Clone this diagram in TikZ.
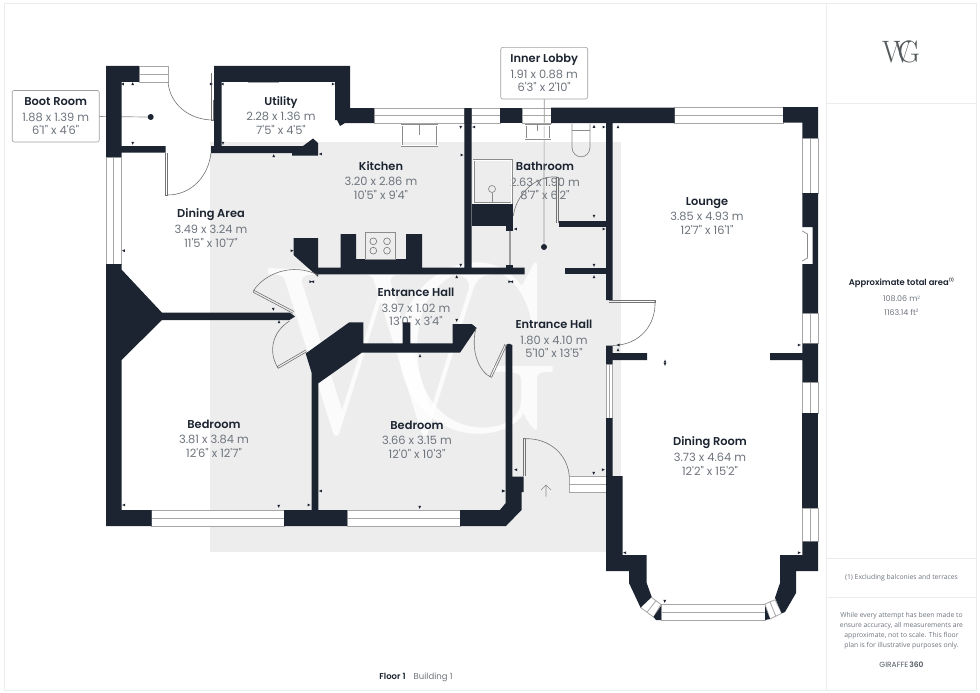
\documentclass[tikz,border=0pt]{standalone}
\usepackage{fontspec}
\newfontfamily\lblfont{Poppins}
\newfontfamily\lblbold{Poppins SemiBold}
\newfontfamily\smallfont{Open Sans}
\definecolor{wallc}{HTML}{1B2430}
\definecolor{txtg}{HTML}{6E747C}
\definecolor{shadec}{HTML}{EDEDED}
\definecolor{wing}{HTML}{A6A6A6}
\definecolor{framec}{HTML}{ECECEC}
\definecolor{logoc}{HTML}{555A5C}
\tikzset{
  wall/.style={fill=wallc,draw=none},
  win/.style={fill=white,draw=wing,line width=0.8pt},
  winl/.style={draw=wing,line width=0.8pt},
  doorl/.style={draw=gray!90!black,line width=0.6pt},
  fixt/.style={draw=gray!90,line width=0.7pt},
  frameln/.style={draw=framec,line width=0.9pt},
  roomlab/.style={inner sep=0pt,align=center,text=txtg,font=\lblfont\fontsize{11.4}{13.6}\selectfont},
  tagbox/.style={roomlab,draw=gray!75,rounded corners=2pt,fill=white,line width=0.6pt,minimum width=87pt,minimum height=51.5pt},
  leader/.style={draw=gray!85,line width=0.7pt},
  sidetxt/.style={inner sep=0pt,align=center,text=txtg,font=\smallfont\fontsize{6.8}{9.8}\selectfont},
  wmark/.style={inner sep=0pt,anchor=base west,text=white,opacity=0.8,font=\rmfamily\fontsize{240}{240}\selectfont},
  logomark/.style={inner sep=0pt,anchor=base west,text=logoc,font=\rmfamily\fontsize{31}{31}\selectfont}
}
\newcommand{\rtitle}[1]{{\lblbold\color{wallc}#1}}
% window helpers
\newcommand{\winh}[4]{\draw[win] (#1,#3) rectangle (#2,#4); \draw[winl] (#1,{(#3+#4)/2}) -- (#2,{(#3+#4)/2});}
\newcommand{\winv}[4]{\draw[win] (#3,#1) rectangle (#4,#2); \draw[winl] ({(#3+#4)/2},#1) -- ({(#3+#4)/2},#2);}
% dimension ticks
\newcommand{\tkL}[2]{\fill[wallc,shift={(#1,#2)}] (-1.8,0) -- (1.2,-1.4) -- (1.2,1.4) -- cycle;}
\newcommand{\tkR}[2]{\fill[wallc,shift={(#1,#2)}] (1.8,0) -- (-1.2,-1.4) -- (-1.2,1.4) -- cycle;}
\newcommand{\tkU}[2]{\fill[wallc,shift={(#1,#2)}] (0,-1.8) -- (-1.4,1.2) -- (1.4,1.2) -- cycle;}
\newcommand{\tkD}[2]{\fill[wallc,shift={(#1,#2)}] (0,1.8) -- (-1.4,-1.2) -- (1.4,-1.2) -- cycle;}
\begin{document}
\begin{tikzpicture}[x=1pt,y=-1pt]
\useasboundingbox (0,0) rectangle (980,693);
\fill[white] (0,0) rectangle (980,693);
% frame
\draw[frameln] (4.5,3) -- (976.3,3) -- (976.3,690) -- (4.5,690) -- cycle;
\draw[frameln] (826.7,3) -- (826.7,690);
\draw[frameln] (826.7,103) -- (976.3,103);
\draw[frameln] (826.7,558) -- (976.3,558);
\draw[frameln] (826.7,597) -- (976.3,597);
% shaded area and watermark
\fill[shadec] (210,141.5) rectangle (620.7,551.7);
\node[wmark] (wmW) at (266,432) {W};
\node[wmark] (wmG) at (388,430) {G};
% room labels
\node[roomlab] (utility) at (281,115.5) {\rtitle{Utility}\\[2pt]2.28 x 1.36 m\\7'5" x 4'5"};
\node[roomlab] (kitchen) at (381,180.5) {\rtitle{Kitchen}\\[2pt]3.20 x 2.86 m\\10'5" x 9'4"};
\node[roomlab] (bathroom) at (545,181) {\rtitle{Bathroom}\\[2pt]2.63 x 1.90 m\\8'7" x 6'2"};
\node[roomlab] (dining) at (211,228) {\rtitle{Dining Area}\\[2pt]3.49 x 3.24 m\\11'5" x 10'7"};
\node[roomlab] (lounge) at (707,216) {\rtitle{Lounge}\\[2pt]3.85 x 4.93 m\\12'7" x 16'1"};
\node[roomlab] (hallA) at (416,307) {\rtitle{Entrance Hall}\\[2pt]3.97 x 1.02 m\\13'0" x 3'4"};
\node[roomlab] (hallB) at (554,339) {\rtitle{Entrance Hall}\\[2pt]1.80 x 4.10 m\\5'10" x 13'5"};
\node[roomlab] (bedA) at (214,438.5) {\rtitle{Bedroom}\\[2pt]3.81 x 3.84 m\\12'6" x 12'7"};
\node[roomlab] (bedB) at (417,439.5) {\rtitle{Bedroom}\\[2pt]3.66 x 3.15 m\\12'0" x 10'3"};
\node[roomlab] (diningroom) at (710,456) {\rtitle{Dining Room}\\[2pt]3.73 x 4.64 m\\12'2" x 15'2"};
% callouts
\node[tagbox] (boot) at (55.7,116.2) {\rtitle{Boot Room}\\[2pt]1.88 x 1.39 m\\6'1" x 4'6"};
\node[tagbox] (lobby) at (544.2,73.2) {\rtitle{Inner Lobby}\\[2pt]1.91 x 0.88 m\\6'3" x 2'10"};
\node[circle,fill=wallc,inner sep=0pt,minimum size=6pt] (bootdot) at (150.7,117) {};
\node[circle,fill=wallc,inner sep=0pt,minimum size=6pt] (lobbydot) at (544,247) {};
% windows
\winh{139}{168}{66}{82}
\winh{248}{278}{66}{82}
\winh{374}{464.3}{108}{123}
\winh{471.7}{500}{108}{123}
\winh{522}{551}{108}{123}
\winh{674.7}{783}{107.5}{123}
\winh{151.5}{284}{510}{526}
\winh{347}{460}{510}{526}
\winh{661}{765}{604.5}{620}
\winv{157}{264}{106}{121.5}
\winv{138}{193}{802.3}{818}
\winv{313}{343.7}{802.3}{818}
\winv{382}{413.3}{802.3}{818}
\winv{508.3}{541.7}{802.3}{818}
\draw[win] (606,364) rectangle (612.7,418); \draw[winl] (609.3,364) -- (609.3,418);
\draw[win] (569.3,476.7) rectangle (606,492.3); \draw[winl] (569.3,484.3) -- (606,484.3);
\draw[win] (651,597) -- (661,604.5) -- (653.5,617) -- (640.5,607.5) -- cycle; \draw[winl] (656,600.7) -- (647,612.3);
\draw[win] (765,604) -- (775,599.7) -- (781.7,613.3) -- (770,619) -- cycle; \draw[winl] (770,601.8) -- (775.8,616.2);
% leaders (run behind the walls)
\draw[leader] (boot) -- (bootdot);
\draw[leader] (lobby) -- (lobbydot);
% walls
\fill[wall] (106,66) -- (139,66) -- (139,82) -- (121.5,82) -- (121.5,146) -- (165.5,146) -- (165.5,152.5) -- (121.5,152.5) -- (121.5,157) -- (106,157) -- cycle;
\fill[wall] (106,264) -- (121.5,264) -- (121.5,269.5) -- (162,312.7) -- (290,312.7) -- (295,316.5) -- (289.5,320) -- (162,320) -- (121.5,360) -- (121.5,510) -- (151.5,510) -- (151.5,526) -- (106,526) -- cycle;
\fill[wall] (284,510) -- (311.7,510) -- (311.7,373) -- (305.7,353.5) -- (349.3,322.3) -- (363.3,322.3) -- (363.3,343.3) -- (402.7,343.3) -- (402.7,322.3) -- (410.3,322.3) -- (410.3,343.3) -- (452.7,343.3) -- (452.7,324) -- (471.7,324) -- (476.7,328) -- (460,352.7) -- (361.7,352.7) -- (318.3,383.3) -- (318.3,510) -- (347,510) -- (347,526) -- (284,526) -- cycle;
\fill[wall] (460,526) -- (460,510) -- (500,510) -- (505.7,503) -- (505.7,345) -- (509,343.7) -- (512.3,345) -- (512.3,476.5) -- (523.5,476.5) -- (523.5,492) -- (521.5,492) -- (521.5,510) -- (506,526) -- cycle;
\fill[wall] (214,66) -- (350,66) -- (350,108) -- (374,108) -- (374,123) -- (345,123) -- (340,126) -- (337,120) -- (335,120) -- (335,82) -- (221.7,82) -- (221.7,146) -- (303,146) -- (313,138.5) -- (318,143) -- (318,155.5) -- (292,155.5) -- (292,153) -- (211,153) -- (211,146) -- (214,146) -- cycle;
\fill[wall] (293.5,238) -- (318,238) -- (318,267.5) -- (340.7,267.5) -- (340.7,234) -- (356,234) -- (356,259) -- (406,259) -- (406,234) -- (422,234) -- (422,267.5) -- (464.3,267.5) -- (464.3,108) -- (471.7,108) -- (471.7,267.5) -- (524.5,267.5) -- (524.5,274.3) -- (318,274.3) -- (318,276.7) -- (293.5,255) -- cycle;
\fill[wall] (471.7,204) rectangle (512.7,225.7);
\fill[wall] (506,225) rectangle (512.7,231);
\fill[wall] (506,265) rectangle (513,267.5);
\fill[wall] (500,108) rectangle (522,123);
\fill[wall] (551,107.5) -- (674.7,107.5) -- (674.7,123) -- (612.7,123) -- (612.7,300) -- (606,300) -- (606,123) -- (551,123) -- cycle;
\fill[wall] (558.7,220.7) rectangle (606,226.7);
\fill[wall] (565,267.7) rectangle (606,274.3);
\fill[wall] (606,345.7) -- (612.7,345.7) -- (612.7,353) -- (647,353) -- (647,360) -- (612.7,360) -- (612.7,364) -- (606,364) -- cycle;
\fill[wall] (606,418) -- (612.7,418) -- (612.7,476) -- (622.7,476) -- (622.7,555) -- (646.7,555) -- (646.7,583) -- (651.7,597) -- (640.5,607.5) -- (629,583) -- (629,571) -- (606,571) -- cycle;
\fill[wall] (783,107) -- (818,107) -- (818,138) -- (802.3,138) -- (802.3,122.5) -- (783,122.5) -- cycle;
\fill[wall] (802.3,193) -- (818,193) -- (818,313) -- (802.3,313) -- (802.3,264) -- (812.5,264) -- (812.5,227) -- (802.3,227) -- cycle;
\fill[wall] (802.3,343.7) -- (818,343.7) -- (818,382) -- (802.3,382) -- (802.3,360) -- (770,360) -- (770,353) -- (802.3,353) -- cycle;
\fill[wall] (802.3,413.3) rectangle (818,508.3);
\fill[wall] (802.3,541.7) -- (818,541.7) -- (818,571) -- (796,571) -- (796,593) -- (785,612) -- (781.7,613.3) -- (775,597.7) -- (780,583) -- (780,555) -- (802.3,555) -- cycle;
\fill[wall] (661,606) -- (661,620) -- (656,620) -- (653.5,617) -- cycle;
\fill[wall] (765,606) -- (765,620) -- (770,619) -- cycle;
% fireplace
\draw[fixt] (802.3,231) -- (807.5,234) -- (807.5,258) -- (802.3,261);
% doors
\draw[doorl] (168,82) .. controls (170,105) and (190,120) .. (213,120);
\draw[doorl] (211,73) -- (211,120) -- (213,120) -- (213,100);
\draw[doorl] (165.5,152.5) -- (165.5,195) -- (167.5,195) -- (167.5,152.5);
\draw[doorl] (167.5,195) .. controls (190,195) and (208,178) .. (211,153);
\draw[doorl] (293,313.3) -- (253.3,292.3) -- (254.3,290.5) -- (294,311.5);
\draw[doorl] (253.3,291) .. controls (264,274) and (292,262) .. (318,275);
\draw[doorl] (306.7,351.7) -- (278.3,368.3) -- (277.3,366.5) -- (305.7,350);
\draw[doorl] (278,368) .. controls (268,352) and (272,332) .. (289.5,321);
\draw[doorl] (506.7,345) -- (491.7,377.3) -- (489.9,376.5) -- (504.9,344.2);
\draw[doorl] (490.5,377) .. controls (480,372) and (470,352) .. (476,328);
\draw[doorl] (609.3,300) -- (655,300) -- (655,302) -- (609.3,302);
\draw[doorl] (655,301) .. controls (656,325) and (640,345) .. (612.7,345.5);
\draw[doorl] (523.7,476) -- (523.7,438.7) -- (525.7,438.7) -- (525.7,476);
\draw[doorl] (525,438.7) .. controls (550,438) and (568,455) .. (569.3,476.7);
\draw[doorl] (556.7,223) -- (556.7,177) -- (558.7,177) -- (558.7,223);
\draw[doorl] (513.3,216) .. controls (516,195) and (535,175) .. (557,177);
\fill[wing!70!gray] (508.5,231) rectangle (510.7,265);
% entry arrow
\draw[gray!90,line width=0.6pt] (546,496.7) -- (546,485) (541,490) -- (546,485) -- (551,490);
% kitchen fixtures
\draw[fixt,double,double distance=1pt,line width=0.5pt] (401.5,125) rectangle (437.2,145.5);
\draw[fixt] (419,124) -- (419,135);
\draw[fixt] (365,232) rectangle (395.7,259);
\foreach \cx/\cy in {373.3/241.3,387/241.3,373.3/250.7,387/250.7} {\draw[gray!90!black,line width=0.6pt] (\cx,\cy) circle (3.4);}
% bathroom fixtures
\draw[fixt,double,double distance=1pt,line width=0.5pt] (525.7,125) rectangle (550.2,138.5);
\draw[fixt] (537.7,124) -- (537.7,131);
\draw[fixt,double,double distance=1pt,line width=0.5pt] (473.5,160) rectangle (511.7,203);
\draw[fixt] (492,189) circle (3.5);
\draw[fixt] (492,192.5) -- (492,203);
\draw[fixt] (572,123.5) -- (572,147) .. controls (572,160) and (590,160) .. (590,147) -- (590,123.5);
\draw[fixt] (572,130.5) -- (590,130.5);
% dimension ticks
\tkL{122.7}{84}\tkU{132.7}{84}\tkD{132.7}{143}\tkR{211}{84}\tkL{222.5}{84}\tkR{333}{84}
\tkD{223}{143}\tkU{273.7}{156}\tkL{320.7}{154}\tkL{123.7}{250.7}\tkR{291.7}{250.7}
\tkR{310.5}{281.7}\tkL{313}{281.7}
\tkD{460.7}{127}\tkL{474}{127}\tkR{461.7}{155}\tkL{515.7}{229}\tkU{594}{126.7}\tkR{603.7}{127}\tkU{618}{127}
\tkD{594}{216}\tkR{603.7}{229}\tkD{460.7}{265}\tkU{456.7}{277}
\tkR{509.5}{281.7}\tkL{512}{281.7}\tkD{594}{265}\tkU{594}{277}
\tkD{273.3}{309}\tkU{279}{322}\tkD{456.7}{320}\tkU{420}{356}
\tkL{516}{469.7}\tkR{503}{491}\tkD{593.7}{473}\tkR{603}{469.7}\tkL{618.3}{345}\tkU{618}{350}
\tkU{665}{361.5}\tkD{665}{364}
\tkL{625}{552.7}\tkR{799}{552.7}\tkD{664.7}{601}\tkR{799}{345}
\tkL{124}{505}\tkD{278.7}{506}\tkR{308.7}{505}\tkL{320.7}{491}\tkD{419.7}{507}\tkR{503.3}{491}
% side panel
\node[logomark] (logoW) at (882,63) {W};
\node[logomark] (logoG) at (897.5,63) {G};
\node[inner sep=0pt,text=wallc,font=\lblbold\fontsize{8.4}{9}\selectfont] (areat) at (901.5,283) {Approximate total area\raisebox{3.5pt}{\fontsize{4}{4}\selectfont(1)}};
\node[inner sep=0pt,text=txtg,font=\lblfont\fontsize{7.9}{9}\selectfont] (aream) at (901.5,299) {108.06 m\raisebox{2.8pt}{\fontsize{4.5}{4}\selectfont 2}};
\node[inner sep=0pt,text=txtg,font=\lblfont\fontsize{7.9}{9}\selectfont] (areaf) at (901.5,312.7) {1163.14 ft\raisebox{2.8pt}{\fontsize{4.5}{4}\selectfont 2}};
\node[sidetxt] (note) at (901.5,577.5) {(1) Excluding balconies and terraces};
\node[sidetxt] (disc) at (901.5,630.8) {While every attempt has been made to\\ensure accuracy, all measurements are\\approximate, not to scale. This floor\\plan is for illustrative purposes only.};
\node[inner sep=0pt,text=wallc!75!white,font=\lblfont\fontsize{7.5}{9}\selectfont] (brand) at (901.5,664.5) {GIRAFFE\,{\lblbold 360}};
\node[inner sep=0pt,font=\lblfont\fontsize{8.5}{9}\selectfont,text=txtg] (floor) at (416,677) {{\lblbold\color{wallc}Floor 1}\hspace{8pt}Building 1};
\end{tikzpicture}
\end{document}
